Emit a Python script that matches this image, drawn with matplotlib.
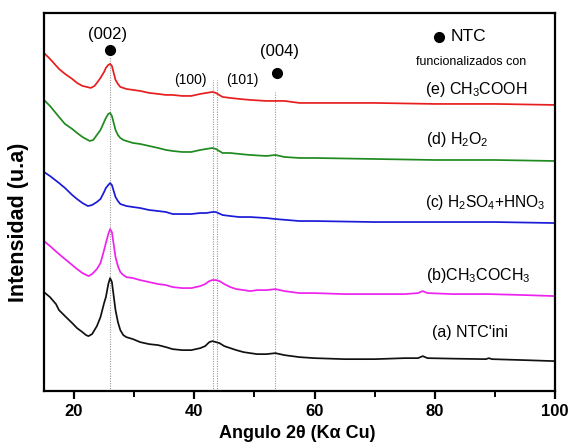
import matplotlib
matplotlib.use("Agg")
import matplotlib.pyplot as plt

plt.rcParams['font.family'] = ['Liberation Sans', 'DejaVu Sans']
plt.rcParams['mathtext.fontset'] = 'custom'
plt.rcParams['mathtext.rm'] = 'Liberation Sans'

# (a) NTC'ini
xa = [15, 16, 17, 17.5, 18.5, 19.7, 20.5, 21.4, 22, 22.4, 23, 23.8, 24.4, 25, 25.3, 25.7, 26, 26.3,
      26.9, 27.3, 27.7, 28.2, 28.7, 29.8, 31, 32.5, 34, 35.3, 36.4, 38, 39.5, 41, 41.8, 42.5, 43,
      43.6, 44.2, 45, 46, 47, 48.2, 49.3, 50.5, 52, 53.5, 55, 57.5, 60, 65, 70, 75, 77.2, 78, 78.8,
      83, 88.5, 89, 89.5, 95, 100]
ya = [99, 94, 87, 81, 75, 68, 63, 59, 56, 55, 57, 65, 74, 88, 94, 107, 113, 109,
      81, 69, 61, 56, 54, 52, 49, 47, 46, 44, 42, 41, 41, 43, 45, 49, 50,
      49, 48, 45, 43, 41, 39, 38, 37, 37, 38, 36, 34, 33, 32, 32, 33, 33, 35, 33,
      32.5, 32, 33, 32, 31, 30]

# (b) CH3COCH3
xb = [15, 16, 17.5, 18.5, 19.7, 20.5, 21.4, 22.4, 23, 23.8, 24.4, 25, 25.3, 25.7, 26, 26.3,
      26.9, 27.3, 27.7, 28.2, 28.7, 29.8, 31, 32.5, 34, 35.3, 36.4, 38, 39.5, 41, 41.8, 42.5, 43,
      43.6, 44.2, 45, 46, 47, 48.2, 49.3, 50.5, 52, 53.5, 55, 57.5, 60, 65, 70, 75, 77.2, 78, 78.8,
      83, 89, 95, 100]
yb = [150, 145, 137, 132, 126, 122, 118, 115, 117, 122, 128, 141, 148, 157, 162, 159,
      134, 125, 119, 116, 114, 113, 111, 109, 107, 106, 104, 103, 103, 105, 107, 110, 111,
      111, 110, 107, 104, 102, 101, 100, 101, 101, 102, 100, 98, 98, 97, 97, 97, 98, 100, 98,
      97, 97, 96, 95]

# (c) H2SO4+HNO3
xc = [15, 16, 17.5, 18.5, 19.7, 20.5, 21.4, 22.3, 23, 23.8, 24.4, 25, 25.3, 25.7, 26, 26.3,
      26.9, 27.3, 27.7, 28.2, 28.7, 29.8, 31, 32.5, 34, 35.3, 36.4, 38, 39.5, 41, 42, 43, 43.6,
      44.7, 46, 47.5, 49.3, 52, 53.5, 57.5, 60, 70, 80, 90, 100]
yc = [219, 215, 208, 203, 196, 192, 188, 185, 186, 189, 192, 199, 203, 206, 208, 206,
      194, 190, 187, 186, 185, 184, 183, 181, 180, 179, 177, 177, 177, 178, 178, 179, 179,
      176, 175, 174, 174, 173, 172, 170, 170, 169, 169, 169, 168]

# (d) H2O2
xd = [15, 16, 17.5, 18.5, 19.7, 20.5, 21.4, 22.6, 23.2, 23.8, 24.4, 25, 25.3, 25.7, 26, 26.3,
      26.9, 27.3, 27.7, 28.2, 28.7, 29.8, 31, 32.5, 34, 35.3, 36.4, 38, 39.5, 41, 42, 43, 43.6,
      44.7, 46, 47.5, 49.3, 52, 53.5, 55, 57.5, 60, 70, 80, 90, 100]
yd = [291, 285, 274, 267, 262, 258, 254, 250, 251, 256, 261, 269, 273, 277, 278, 275,
      261, 256, 253, 251, 250, 248, 247, 245, 243, 241, 240, 239, 239, 241, 242, 243, 242,
      238, 238, 237, 236, 235, 236, 234, 233, 233, 232, 231, 231, 230]

# (e) CH3COOH
xe = [15, 16, 17.5, 18.5, 19.7, 20.5, 21.4, 22.8, 23.4, 23.8, 24.4, 25, 25.3, 25.7, 26, 26.3,
      26.9, 27.3, 27.7, 28.2, 28.7, 29.8, 31, 32.5, 34, 35.3, 36.4, 38, 39.5, 41, 42, 43, 43.6,
      44.7, 46, 47.5, 49.3, 52, 53.5, 55, 57.5, 60, 70, 80, 90, 100]
ye = [338, 332, 322, 317, 312, 308, 305, 303, 305, 308, 313, 319, 323, 326, 327, 325,
      311, 307, 304, 303, 302, 301, 300, 298, 297, 296, 296, 295, 295, 297, 298, 299, 298,
      294, 293, 292, 291, 290, 290, 290, 288, 288, 288, 287, 287, 286]

series = [
    (xa, ya, '#111111'),
    (xb, yb, '#ee22ee'),
    (xc, yc, '#1a1ad8'),
    (xd, yd, '#1f8a1f'),
    (xe, ye, '#e81e1e'),
]

peak_lines = [26, 43.05, 43.7, 53.5]
peak_tops = [334, 311, 311, 299]

fig = plt.figure(figsize=(5.71, 4.44), dpi=100)
ax = fig.add_axes([0.077, 0.119, 0.895, 0.852])

for xp, top in zip(peak_lines, peak_tops):
    ax.plot([xp, xp], [0, top], color='#999999', ls=(0, (1, 1.2)), lw=0.8, zorder=1)

for x, y, c in series:
    ax.plot(x, y, color=c, lw=1.25, zorder=2)

ax.set_xlim(15, 100)
ax.set_ylim(0, 378)
ax.set_yticks([])
ax.set_xticks([20, 40, 60, 80, 100])
ax.set_xticks([30, 50, 70, 90], minor=True)
ax.tick_params(axis='x', which='major', direction='out', length=6, width=1.6,
               labelsize=12, pad=3)
ax.tick_params(axis='x', which='minor', direction='out', length=4, width=1.4)
for lab in ax.get_xticklabels():
    lab.set_fontweight('bold')
for s in ax.spines.values():
    s.set_linewidth(1.6)

ax.set_xlabel('Angulo 2θ (Kα Cu)', fontsize=13, fontweight='bold')
ax.xaxis.set_label_coords(0.495, -0.09)
ax.set_ylabel('Intensidad (u.a)', fontsize=15.5, fontweight='bold')
ax.yaxis.set_label_coords(-0.03, 0.447)

# peak annotations
ax.plot([26, 53.7], [341, 318], 'o', color='black', ms=7, zorder=3)
ax.text(25.5, 356, '(002)', fontsize=12, ha='center', va='center')
ax.text(39.3, 311, '(100)', fontsize=10, ha='center', va='center')
ax.text(48.0, 311, '(101)', fontsize=10, ha='center', va='center')
ax.text(54.2, 339, '(004)', fontsize=12, ha='center', va='center')

# legend-like block
ax.plot([80.67], [354], 'o', color='black', ms=7, zorder=3)
ax.text(82.67, 354, 'NTC', fontsize=12.5, ha='left', va='center')
ax.text(86.1, 329, 'funcionalizados con', fontsize=9, ha='center', va='center')
ax.text(78.3, 301, r'(e) CH$_3$COOH', fontsize=11.5, ha='left', va='center')
ax.text(78.5, 251, r'(d) H$_2$O$_2$', fontsize=11.5, ha='left', va='center')
ax.text(78.3, 189, r'(c) H$_2$SO$_4$+HNO$_3$', fontsize=11.2, ha='left', va='center')
ax.text(78.5, 116, r'(b)CH$_3$COCH$_3$', fontsize=11.5, ha='left', va='center')
ax.text(79.5, 59, "(a) NTC'ini", fontsize=11.5, ha='left', va='center')

fig.savefig('out.png', dpi=100)
